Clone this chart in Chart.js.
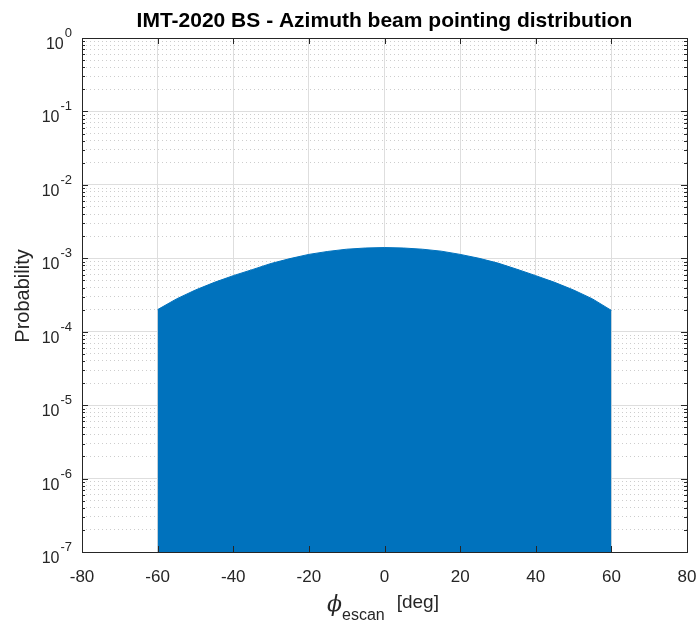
<!DOCTYPE html>
<html>
<head>
<meta charset="utf-8">
<script src="https://cdn.jsdelivr.net/npm/chart.js@4/dist/chart.umd.min.js"></script>
<style>
  body { margin: 0; background: #fff; }
  canvas { display: block; }
</style>
</head>
<body>
<canvas id="beamChart" width="700" height="628"></canvas>
<script>
const azimuthDeg = [-60, -55, -50, -45, -40, -35, -30, -25, -20, -15, -10, -5, 0,
  5, 10, 15, 20, 25, 30, 35, 40, 45, 50, 55, 60];
const probability = [2.0e-4, 2.8e-4, 3.7e-4, 4.7e-4, 5.8e-4, 7.0e-4, 8.5e-4, 9.9e-4, 1.13e-3,
  1.24e-3, 1.33e-3, 1.38e-3, 1.40e-3, 1.38e-3, 1.33e-3, 1.25e-3, 1.13e-3, 1.0e-3,
  8.6e-4, 7.1e-4, 5.8e-4, 4.7e-4, 3.7e-4, 2.8e-4, 1.95e-4];

const xTicks = [-80, -60, -40, -20, 0, 20, 40, 60, 80];
const yExponents = [0, -1, -2, -3, -4, -5, -6, -7];
const yMinorMant = [2, 3, 4, 5, 6, 7, 8, 9];

const titulo = "IMT-2020 BS - Azimuth beam pointing distribution";
const yTitulo = "Probability";

const corEixo = "#262626";
const corAzul = "#0072BD";
const fonte = "'Liberation Sans', Arial, sans-serif";

const yMajor = yExponents.map(e => Math.pow(10, e));
const yMinor = [];
yExponents.forEach(e => {
  if (e === 0) return;
  yMinorMant.forEach(m => yMinor.push(m * Math.pow(10, e)));
});

function definirTicks(valores) {
  return scale => { scale.ticks = valores.map(v => ({ value: v })); };
}

// text, superscripts and the inward tick marks (MATLAB style)
const textos = {
  id: "textos",
  afterDraw(chart) {
    const ctx = chart.ctx;
    const area = chart.chartArea;
    const sx = chart.scales.x;
    const sy = chart.scales.y;
    ctx.save();
    ctx.strokeStyle = corEixo;
    ctx.lineWidth = 1;
    ctx.beginPath();
    xTicks.forEach(v => {
      const px = Math.round(sx.getPixelForValue(v)) + 0.5;
      ctx.moveTo(px, area.bottom); ctx.lineTo(px, area.bottom - 6);
      ctx.moveTo(px, area.top); ctx.lineTo(px, area.top + 6);
    });
    yMajor.forEach(v => {
      const py = Math.round(sy.getPixelForValue(v)) + 0.5;
      ctx.moveTo(area.left, py); ctx.lineTo(area.left + 6, py);
      ctx.moveTo(area.right, py); ctx.lineTo(area.right - 6, py);
    });
    yMinor.forEach(v => {
      const py = Math.round(sy.getPixelForValue(v)) + 0.5;
      ctx.moveTo(area.left, py); ctx.lineTo(area.left + 3, py);
      ctx.moveTo(area.right, py); ctx.lineTo(area.right - 3, py);
    });
    ctx.stroke();

    ctx.fillStyle = corEixo;
    // x tick labels
    ctx.font = "17px " + fonte;
    ctx.textAlign = "center";
    ctx.textBaseline = "alphabetic";
    xTicks.forEach(v => {
      ctx.fillText(String(v), sx.getPixelForValue(v), area.bottom + 30);
    });
    // y tick labels 10^n
    yExponents.forEach(e => {
      const py = sy.getPixelForValue(Math.pow(10, e));
      ctx.font = "13px " + fonte;
      const exp = String(e);
      const we = ctx.measureText(exp).width;
      ctx.textAlign = "right";
      ctx.fillText(exp, 72, py - 1);
      ctx.font = "16px " + fonte;
      ctx.fillText("10", 71 - we, py + 11);
    });
    // title
    ctx.font = "bold 21px " + fonte;
    ctx.textAlign = "center";
    ctx.fillStyle = "#000";
    ctx.fillText(titulo, (area.left + area.right) / 2, 27);
    // y title
    ctx.save();
    ctx.translate(29, 296);
    ctx.rotate(-Math.PI / 2);
    ctx.font = "20px " + fonte;
    ctx.fillStyle = corEixo;
    ctx.fillText(yTitulo, 0, 0);
    ctx.restore();
    // x title: phi_escan [deg]
    ctx.fillStyle = corEixo;
    ctx.textAlign = "left";
    ctx.font = "italic 22px 'DejaVu Serif', serif";
    const wPhi = ctx.measureText("\u03d5").width;
    ctx.font = "16px " + fonte;
    const wSub = ctx.measureText("escan").width;
    let x0 = 327;
    ctx.font = "italic 22px 'DejaVu Serif', serif";
    ctx.fillText("\u03d5", x0, 611);
    x0 += wPhi;
    ctx.font = "16px " + fonte;
    ctx.fillText("escan", x0, 620);
    x0 += wSub + 12;
    ctx.font = "19px " + fonte;
    ctx.fillText("[deg]", x0, 608);
    ctx.restore();
  }
};

new Chart(document.getElementById("beamChart"), {
  type: "line",
  data: {
    datasets: [{
      label: "Probability",
      data: azimuthDeg.map((x, i) => ({ x: x, y: probability[i] })),
      borderColor: corAzul,
      backgroundColor: corAzul,
      borderWidth: 1,
      pointRadius: 0,
      tension: 0,
      fill: "start"
    }]
  },
  options: {
    responsive: false,
    animation: false,
    layout: { padding: { left: 82, right: 13, top: 38, bottom: 76 } },
    plugins: { legend: { display: false }, tooltip: { enabled: false } },
    scales: {
      x: {
        type: "linear", position: "bottom", min: -80, max: 80,
        afterBuildTicks: definirTicks(xTicks),
        ticks: { display: false },
        grid: { color: "#dedede", drawTicks: false },
        border: { color: corEixo, width: 1 }
      },
      xTop: {
        type: "linear", position: "top", min: -80, max: 80,
        ticks: { display: false },
        grid: { display: false, drawTicks: false },
        border: { color: corEixo, width: 1 }
      },
      y: {
        type: "logarithmic", position: "left", min: 1e-7, max: 1,
        afterBuildTicks: definirTicks(yMajor),
        ticks: { display: false },
        grid: { color: "#dedede", drawTicks: false },
        border: { color: corEixo, width: 1 }
      },
      yMinor: {
        type: "logarithmic", position: "right", min: 1e-7, max: 1,
        afterBuildTicks: definirTicks(yMinor),
        ticks: { display: false },
        grid: { color: "#cdcdcd", drawTicks: false },
        border: { color: corEixo, width: 1, dash: [1, 3] }
      }
    }
  },
  plugins: [textos]
});
</script>
</body>
</html>
